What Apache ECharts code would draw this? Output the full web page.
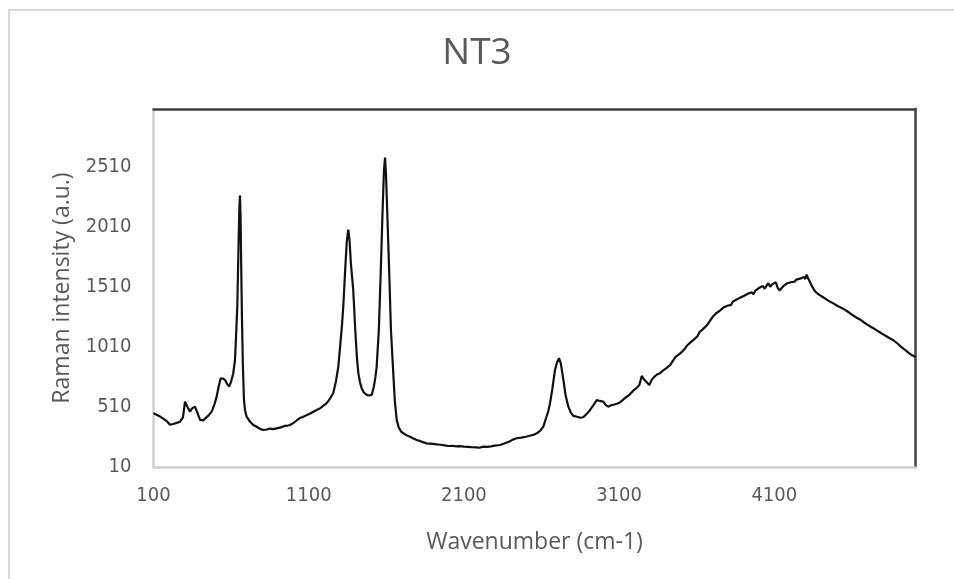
<!DOCTYPE html>
<html>
<head>
<meta charset="utf-8">
<script src="https://cdn.jsdelivr.net/npm/echarts@6/dist/echarts.min.js"></script>
<style>
  html, body { margin: 0; padding: 0; background: #fff; }
  #chart { width: 954px; height: 579px; }
</style>
</head>
<body>
<div id="chart"></div>
<script>
// Raman spectrum of sample NT3
const wavenumber = [
  100, 120, 142, 165, 185, 206, 225, 245, 271, 290, 303, 315, 335, 350, 367, 385, 400, 420, 432, 455,
  475, 495, 507, 520, 533, 548, 561, 575, 588, 600, 614, 625, 632, 640, 647, 653, 657, 661, 665, 670,
  676, 683, 690, 700, 720, 743, 765, 790, 808, 830, 850, 870, 894, 920, 945, 965, 980, 1000, 1020, 1040,
  1065, 1085, 1110, 1130, 1152, 1175, 1195, 1216, 1235, 1258, 1275, 1291, 1305, 1315, 1323, 1335, 1345, 1355, 1363, 1372,
  1387, 1400, 1412, 1420, 1430, 1441, 1455, 1474, 1490, 1506, 1520, 1530, 1538, 1552, 1564, 1575, 1585, 1592, 1598, 1607,
  1619, 1630, 1645, 1655, 1667, 1680, 1695, 1710, 1730, 1753, 1775, 1796, 1820, 1840, 1860, 1880, 1903, 1925, 1950, 1975,
  2000, 2025, 2050, 2075, 2100, 2125, 2150, 2182, 2200, 2225, 2250, 2275, 2300, 2333, 2360, 2390, 2415, 2440, 2470, 2500,
  2530, 2547, 2570, 2590, 2612, 2630, 2645, 2655, 2670, 2687, 2700, 2713, 2725, 2741, 2755, 2773, 2790, 2805, 2830, 2850,
  2869, 2890, 2913, 2935, 2956, 2975, 2998, 3015, 3030, 3050, 3070, 3090, 3106, 3130, 3150, 3170, 3191, 3210, 3230, 3246,
  3260, 3275, 3295, 3310, 3330, 3345, 3364, 3385, 3407, 3430,
  3450, 3462, 3474, 3486, 3498, 3510, 3522, 3534, 3546, 3558, 3570, 3582, 3594, 3606, 3618, 3630, 3642, 3654, 3666, 3678,
  3690, 3702, 3714, 3726, 3738, 3750, 3762, 3774, 3786, 3798, 3810, 3822, 3834, 3846, 3858, 3870, 3882, 3894, 3906, 3918,
  3930, 3942, 3954, 3966, 3978, 3990, 4002, 4014, 4026, 4038, 4050, 4062, 4074, 4086, 4098, 4110, 4122, 4134, 4146, 4158,
  4170, 4182, 4194, 4206, 4218, 4230, 4242, 4254, 4266, 4278, 4290, 4300, 4309, 4316, 4324, 4330, 4340, 4352, 4364, 4376,
  4388, 4400, 4412, 4424, 4436, 4448, 4460, 4472, 4484, 4496, 4508, 4520, 4532, 4544, 4556, 4568, 4580, 4592, 4604, 4616,
  4628, 4640, 4652, 4664, 4676, 4688, 4700, 4712, 4724, 4736, 4748, 4760, 4772, 4784, 4796, 4808, 4820, 4832, 4844, 4856,
  4868, 4880, 4892, 4904, 4916, 4928, 4940, 4952, 4964, 4976, 4988, 5000, 5010
];
const intensity = [
  457, 445, 430, 410, 392, 362, 368, 375, 387, 425, 554, 520, 471, 500, 512, 455, 402, 398, 402, 440,
  471, 540, 596, 680, 749, 745, 735, 700, 679, 720, 791, 900, 1100, 1346, 1800, 2150, 2270, 2100, 1700, 1250,
  850, 568, 480, 429, 390, 360, 345, 325, 318, 322, 330, 325, 332, 340, 352, 355, 360, 375, 395, 415,
  429, 440, 455, 470, 485, 500, 520, 541, 575, 624, 720, 846, 1050, 1200, 1346, 1650, 1880, 1985, 1900, 1700,
  1485, 1150, 900, 791, 720, 666, 630, 610, 605, 610, 680, 760, 846, 1150, 1624, 2100, 2480, 2585, 2450, 2100,
  1624, 1150, 791, 560, 402, 340, 305, 291, 275, 262, 248, 235, 225, 215, 207, 205, 202, 198, 195, 190,
  185, 187, 182, 184, 180, 178, 176, 174, 170, 180, 178, 182, 188, 193, 205, 220, 238, 249, 255, 262,
  272, 277, 290, 310, 346, 420, 480, 541, 660, 818, 880, 916, 870, 735, 610, 512, 460, 435, 428, 420,
  424, 450, 485, 525, 568, 560, 554, 525, 512, 525, 530, 538, 548, 575, 595, 615, 645, 665, 690, 768,
  740, 720, 693, 735, 765, 780, 791, 815, 835, 860,
  900, 925, 912, 948, 940, 975, 992, 1015, 1005, 1045, 1040, 1070, 1085, 1100, 1132, 1125, 1160, 1172, 1190, 1212,
  1225, 1258, 1262, 1290, 1282, 1312, 1320, 1338, 1328, 1352, 1368, 1360, 1388, 1382, 1405, 1398, 1420, 1415, 1435, 1430,
  1452, 1438, 1465, 1448, 1478, 1470, 1500, 1488, 1518, 1495, 1505, 1540, 1510, 1530, 1525, 1548, 1502, 1480, 1470, 1515,
  1528, 1538, 1530, 1548, 1562, 1552, 1570, 1562, 1578, 1570, 1592, 1575, 1612, 1585, 1600, 1550, 1522, 1495, 1470, 1460,
  1445, 1450, 1425, 1430, 1405, 1412, 1385, 1392, 1370, 1375, 1350, 1356, 1335, 1338, 1318, 1312, 1298, 1292, 1275, 1272,
  1255, 1250, 1238, 1232, 1215, 1212, 1195, 1192, 1175, 1172, 1158, 1152, 1138, 1135, 1118, 1115, 1100, 1098, 1082, 1080,
  1065, 1055, 1040, 1032, 1012, 1005, 988, 980, 962, 955, 940, 935, 925
];
const xTicks = [100, 1100, 2100, 3100, 4100];
const yTicks = [10, 510, 1010, 1510, 2010, 2510];

const points = wavenumber.map((w, i) => [w, intensity[i]]);
const textColor = '#595959';
const titleFont = 'Open Sans';
const tickFont = '"Liberation Sans Narrow", "DejaVu Sans Condensed", "Open Sans", sans-serif';

const chart = echarts.init(document.getElementById('chart'), null, { renderer: 'canvas' });
chart.setOption({
  animation: false,
  backgroundColor: '#fff',
  title: {
    text: 'NT3',
    left: 'center',
    top: 30,
    textStyle: { fontFamily: titleFont, fontSize: 37, fontWeight: 'normal', color: textColor }
  },
  graphic: [{
    type: 'rect',
    shape: { x: 9, y: 10, width: 960, height: 600 },
    style: { fill: 'none', stroke: '#d9d9d9', lineWidth: 2 },
    silent: true
  }],
  grid: { left: 153.5, right: 38.5, top: 109, bottom: 112 },
  xAxis: [{
    type: 'value',
    min: xTicks[0],
    max: 5010,
    interval: xTicks[1] - xTicks[0],
    name: 'Wavenumber (cm-1)',
    nameLocation: 'middle',
    nameGap: 64,
    nameTextStyle: { fontFamily: titleFont, fontSize: 23, color: textColor },
    axisLine: { show: true, lineStyle: { color: '#d0d0d0', width: 2.5 } },
    axisTick: { show: false },
    splitLine: { show: false },
    axisLabel: {
      fontFamily: tickFont, fontSize: 20, color: textColor, margin: 19, showMaxLabel: false,
      formatter: v => String(v)
    }
  }, {
    type: 'value',
    position: 'top',
    min: xTicks[0],
    max: 5010,
    axisLine: { show: true, lineStyle: { color: '#404040', width: 2.5 } },
    axisTick: { show: false },
    axisLabel: { show: false },
    splitLine: { show: false }
  }],
  yAxis: [{
    type: 'value',
    min: yTicks[0],
    max: 2990,
    interval: yTicks[1] - yTicks[0],
    name: 'Raman intensity (a.u.)',
    nameLocation: 'middle',
    nameGap: 80,
    nameTextStyle: { fontFamily: titleFont, fontSize: 23, color: textColor },
    axisLine: { show: true, lineStyle: { color: '#d0d0d0', width: 2.5 } },
    axisTick: { show: false },
    splitLine: { show: false },
    axisLabel: {
      fontFamily: tickFont, fontSize: 20, color: textColor, margin: 22, showMaxLabel: false,
      formatter: v => String(v)
    }
  }, {
    type: 'value',
    position: 'right',
    min: yTicks[0],
    max: 2990,
    axisLine: { show: true, lineStyle: { color: '#404040', width: 2.5 } },
    axisTick: { show: false },
    axisLabel: { show: false },
    splitLine: { show: false }
  }],
  series: [{
    type: 'line',
    data: points,
    xAxisIndex: 0,
    yAxisIndex: 0,
    showSymbol: false,
    symbol: 'none',
    lineStyle: { color: '#111', width: 2.2 },
    z: 3
  }]
});
</script>
</body>
</html>
